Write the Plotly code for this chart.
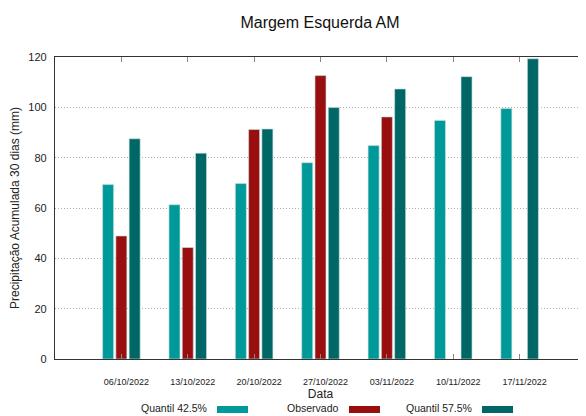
import plotly.graph_objects as go

dates = ["06/10/2022", "13/10/2022", "20/10/2022", "27/10/2022",
         "03/11/2022", "10/11/2022", "17/11/2022"]
q425 = [69.3, 61.3, 69.7, 78.0, 84.8, 94.8, 99.5]
observado = [48.9, 44.3, 91.2, 112.6, 96.2, None, None]
q575 = [87.5, 81.8, 91.4, 99.9, 107.3, 112.2, 119.3]

names = ["Quantil 42.5%", "Observado", "Quantil 57.5%"]
colors = ["#009999", "#990f0f", "#006666"]
series = [q425, observado, q575]

# page has an 8px body margin, so work in figure pixels = screen - 8
OFF = 8
W, H = 586 - OFF, 416 - OFF
L, R, T, B = 55 - OFF, 586 - OFF, 57 - OFF, 359 - OFF


def px_x(px):
    return (px - OFF - L) / (R - L)


def px_y(py):
    return (B - (py - OFF)) / (B - T)


fig = go.Figure()
for nm, col, vals in zip(names, colors, series):
    fig.add_trace(go.Bar(x=dates, y=vals, name=nm, marker_color=col,
                         marker_line=dict(color="rgba(200,225,225,0.8)", width=0.8),
                         showlegend=False))

# legend in gnuplot style: text then swatch (screen pixel positions)
leg_text_x = [209, 341, 474]
for nm, col, tx in zip(names, colors, leg_text_x):
    fig.add_annotation(x=px_x(tx), y=px_y(408), xref="paper", yref="paper",
                       text=nm, showarrow=False, xanchor="right", yanchor="middle",
                       font=dict(family="Liberation Sans, Arial", size=10.5, color="#222"))
    fig.add_shape(type="rect", xref="paper", yref="paper",
                  x0=px_x(tx + 8), x1=px_x(tx + 39), y0=px_y(413), y1=px_y(406),
                  fillcolor=col, line=dict(width=0))

fig.update_layout(
    width=W, height=H,
    margin=dict(l=L, r=W - R, t=T, b=H - B, autoexpand=False),
    paper_bgcolor="white", plot_bgcolor="white",
    barmode="group", bargap=0.4, bargroupgap=0.17,
    font=dict(family="Liberation Sans, Arial", color="#222"),
    title=dict(text="Margem Esquerda AM", x=(320 - OFF) / W, xanchor="center",
               y=1 - (22 - OFF) / H, yanchor="middle", font=dict(size=16, color="#111")),
)
fig.update_xaxes(
    type="category", range=[-1, 7], automargin=False,
    showline=True, linecolor="#333", linewidth=1.2, mirror="allticks",
    ticks="inside", ticklen=5, tickcolor="#888",
    tickfont=dict(size=9, color="#222"), ticklabelstandoff=14, ticklabelshift=5,
    showgrid=False,
    title=dict(text="Data", font=dict(size=12, color="#222"), standoff=2),
)
fig.update_yaxes(
    range=[0, 120], tickvals=[0, 20, 40, 60, 80, 100, 120], automargin=False,
    showline=True, linecolor="#333", linewidth=1.2, mirror=True,
    ticks="", tickfont=dict(size=11, color="#222"), ticklabelstandoff=5,
    showgrid=True, gridcolor="#b0b0b0", griddash="1px,2px", gridwidth=1,
    zeroline=False,
    title=dict(text="Precipitação Acumulada 30 dias (mm)", font=dict(size=12, color="#222"),
               standoff=6),
)
fig.write_html("out.html")
